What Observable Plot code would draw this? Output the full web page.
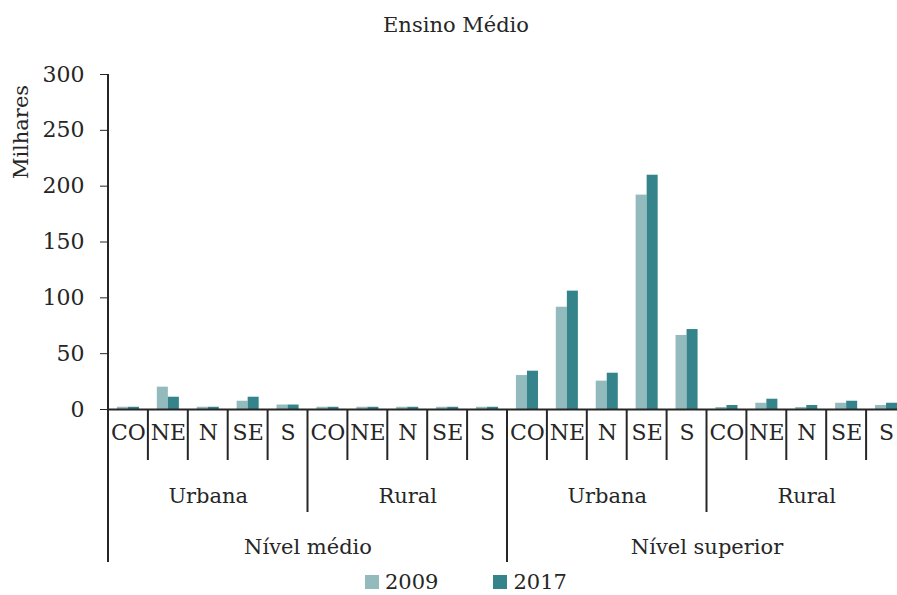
<!DOCTYPE html>
<html><head><meta charset="utf-8">
<script src="https://cdn.jsdelivr.net/npm/d3@7"></script>
<script src="https://cdn.jsdelivr.net/npm/@observablehq/plot@0.6"></script>
<style>
body{margin:0;overflow:hidden;background:#fff;font-family:"DejaVu Serif",serif;color:#262626}
#title{height:50px;line-height:50px;width:897px;padding-left:15px;box-sizing:border-box;text-align:center;font-size:21px}
#legend{display:flex;align-items:center;height:26px;padding-left:365px;font-size:21px}
.item{display:flex;align-items:center;margin-right:55px}
.sw{width:14px;height:14px;display:inline-block;margin-right:6px}
</style></head><body>
<div id="title">Ensino Médio</div>
<div id="chart"></div>
<div id="legend"></div>
<script>
const levels = ["Nível médio", "Nível superior"];
const areas = ["Urbana", "Rural"];
const regions = ["CO", "NE", "N", "SE", "S"];
const years = ["2009", "2017"];
const yTicks = [0, 50, 100, 150, 200, 250, 300];
const values2009 = [2, 20, 2, 7.4, 4,   2, 2, 2, 2, 2,   30.4, 91.6, 25.4, 192, 66.3,   1.8, 5.6, 1.8, 5.6, 3.6];
const values2017 = [2, 11, 2, 11, 4,    2, 2, 2, 2, 2,   34.3, 106, 32.5, 209.8, 71.6,  3.6, 9.2, 3.6, 7.4, 5.6];
const colors = ["#93babd", "#35848b"];

const cats = [];
for (const lv of levels) for (const ar of areas) for (const rg of regions)
  cats.push({key: lv + "|" + ar + "|" + rg, level: lv, area: ar, region: rg});
const keys = cats.map(c => c.key);
const rows = cats.flatMap((c, i) => [
  {key: c.key, year: years[0], value: values2009[i]},
  {key: c.key, year: years[1], value: values2017[i]}
]);
const areaLabels = levels.flatMap(lv => areas.map(ar => ({key: lv + "|" + ar + "|" + regions[2], text: ar})));
const levelLabels = levels.map(lv => ({key: lv + "|" + areas[1] + "|" + regions[0], text: lv}));

const chart = Plot.plot({
  width: 906,
  height: 519,
  marginTop: 24,
  marginLeft: 108,
  marginRight: 0,
  marginBottom: 160,
  style: {maxWidth: "none", fontFamily: "DejaVu Serif, serif", fontSize: "20px", color: "#262626", background: "white"},
  fx: {domain: keys, padding: 0, round: false, axis: null},
  x: {domain: years, paddingInner: 0, paddingOuter: 0.81, round: false, axis: null},
  y: {domain: [0, 300], axis: null},
  color: {domain: years, range: colors},
  marks: [
    Plot.barY(rows, {fx: "key", x: "year", y: "value", fill: "year"}),
    Plot.ruleY([0], {stroke: "#262626", strokeWidth: 2}),
    Plot.axisY({ticks: yTicks, tickSize: 8, tickPadding: 16, label: null, fontSize: 22, stroke: "#262626"}),
    Plot.text(cats, {fx: "key", text: "region", frameAnchor: "bottom", dy: 30, fontSize: 22, fill: "#262626"}),
    Plot.text(areaLabels, {fx: "key", text: "text", frameAnchor: "bottom", dy: 93, fontSize: 21, fill: "#262626"}),
    Plot.text(levelLabels, {fx: "key", text: "text", frameAnchor: "bottom-left", textAnchor: "middle", dy: 144, fontSize: 21, fill: "#262626"})
  ]
});
document.getElementById("chart").append(chart);

// hierarchical axis lines and y-axis line, from the plot's own scales
const fxS = chart.scale("fx"), yS = chart.scale("y");
const band = d3.scaleBand().domain(fxS.domain).range(fxS.range).paddingInner(0).paddingOuter(0);
const yScale = d3.scaleLinear().domain(yS.domain).range(yS.range);
const svg = d3.select(chart);
const y0 = yScale(0);
const g = svg.append("g").attr("stroke", "#262626").attr("stroke-width", 2);
g.append("line").attr("x1", band(keys[0])).attr("x2", band(keys[0]))
  .attr("y1", yScale(300)).attr("y2", y0 + 1);
const bounds = keys.map(k => band(k)).concat([band(keys[keys.length - 1]) + band.bandwidth()]);
bounds.forEach((x, i) => {
  const len = i % 10 === 0 ? 153 : i % 5 === 0 ? 103 : 51;
  g.append("line").attr("x1", x).attr("x2", x).attr("y1", y0).attr("y2", y0 + len);
});
svg.append("text").attr("transform", `translate(22,${yScale(300) + 58}) rotate(-90)`)
  .attr("text-anchor", "middle").attr("dominant-baseline", "middle")
  .attr("fill", "#262626").style("font-size", "21px").text("Milhares");

const legend = d3.select("#legend");
years.forEach((yr, i) => {
  const it = legend.append("div").attr("class", "item");
  it.append("span").attr("class", "sw").style("background", colors[i]);
  it.append("span").text(yr);
});
</script>
</body></html>
